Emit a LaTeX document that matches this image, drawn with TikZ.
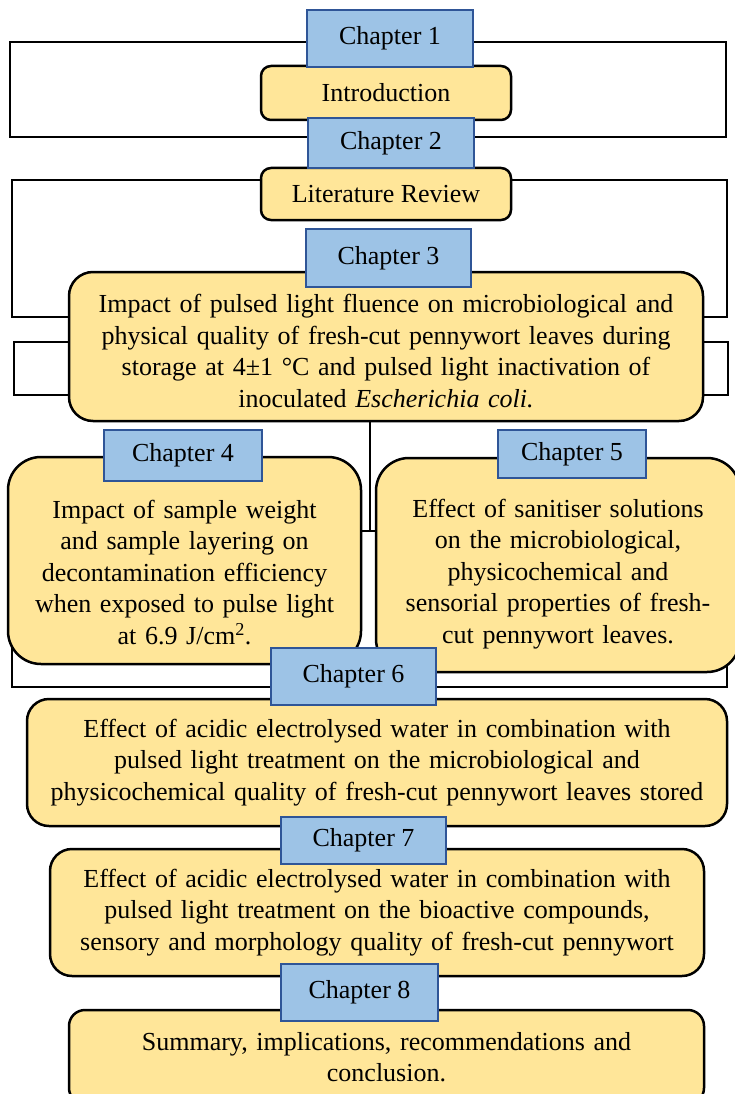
\documentclass[tikz,border=0pt]{standalone}
\usepackage{fontspec}
\setmainfont{Liberation Serif}
\usepackage{xcolor}
\usepackage{tikz}
\usetikzlibrary{positioning}
\definecolor{chapblue}{HTML}{9DC3E6}
\definecolor{chapedge}{HTML}{2F5597}
\definecolor{topicyellow}{HTML}{FFE699}

\begin{document}
\begin{tikzpicture}[x=1pt,y=-1pt]
        \tikzstyle{frame_line}=[draw=black,line width=2pt]
        \tikzstyle{topic_node}=[rounded corners=10pt,fill=topicyellow,draw=black,line width=2.5pt,align=center,inner sep=0pt,font=\fontsize{26}{31.5}\selectfont]
        \tikzstyle{chapter_node}=[fill=chapblue,draw=chapedge,line width=2pt,minimum width=165pt,inner sep=0pt,font=\fontsize{26}{31.5}\selectfont]
        \useasboundingbox (0,0) rectangle (734,1094);

        % frames behind the boxes
        \draw[frame_line] (10,42) rectangle (726,137);
        \draw[frame_line] (12,180) rectangle (727,317);
        \draw[frame_line] (14,342) rectangle (728,395);
        \draw[frame_line] (12,531) rectangle (727,687);
        \coordinate (f4_top) at (370,531);

        \node[topic_node,minimum width=250pt,minimum height=54pt]  (intro)  at (386,93)  {Introduction};
        \node[topic_node,minimum width=250pt,minimum height=52pt]  (litrev) at (386,194) {Literature Review};
        \node[topic_node,rounded corners=24pt,minimum width=634pt,minimum height=149pt,text width=620pt]  (ch3_topic) at (386,346.5)
            {\rule{0pt}{27pt}Impact of pulsed light fluence on microbiological and\\ physical quality of fresh-cut pennywort leaves during\\ storage at 4±1 °C and pulsed light inactivation of\\ inoculated \textit{Escherichia coli.}};
        \node[topic_node,rounded corners=33pt,minimum width=353pt,minimum height=207pt,text width=340pt]  (ch4_topic) at (184.5,560.5)
            {\rule{0pt}{42pt}Impact of sample weight\\ and sample layering on\\ decontamination efficiency\\ when exposed to pulse light\\ at 6.9 J/cm\textsuperscript{2}.};
        \node[topic_node,rounded corners=33pt,minimum width=364pt,minimum height=214pt,text width=350pt]  (ch5_topic) at (558,565)
            {\rule{0pt}{36pt}Effect of sanitiser solutions\\ on the microbiological,\\ physicochemical and\\ sensorial properties of fresh-\\ cut pennywort leaves.};
        \node[topic_node,rounded corners=22pt,minimum width=700pt,minimum height=127pt,text width=690pt]  (ch6_topic) at (377,762.5)
            {Effect of acidic electrolysed water in combination with\\ pulsed light treatment on the microbiological and\\ physicochemical quality of fresh-cut pennywort leaves stored};
        \node[topic_node,rounded corners=22pt,minimum width=654pt,minimum height=127pt,text width=640pt]  (ch7_topic) at (377,912.5)
            {Effect of acidic electrolysed water in combination with\\ pulsed light treatment on the bioactive compounds,\\ sensory and morphology quality of fresh-cut pennywort};
        \node[topic_node,rounded corners=16pt,minimum width=635pt,minimum height=94pt,text width=620pt]  (ch8_topic) at (386.5,1057)
            {Summary, implications, recommendations and\\ conclusion.};

        \node[chapter_node,minimum width=166pt,minimum height=57pt]  (ch1) at (390,38.5)   {Chapter 1};
        \node[chapter_node,minimum width=166pt,minimum height=50pt]  (ch2) at (391,143)    {Chapter 2};
        \node[chapter_node,minimum height=58pt]                      (ch3) at (388.5,258)  {Chapter 3};
        \node[chapter_node,minimum width=158pt,minimum height=51pt]  (ch4) at (183,455.5)  {Chapter 4};
        \node[chapter_node,minimum width=148pt,minimum height=48pt]  (ch5) at (572,454)    {Chapter 5};
        \node[chapter_node,minimum height=57pt]                      (ch6) at (353.5,676.5) {Chapter 6};
        \node[chapter_node,minimum height=47pt]                      (ch7) at (363.5,840.5) {Chapter 7};
        \node[chapter_node,minimum width=157pt,minimum height=57pt]  (ch8) at (359.5,992.5) {Chapter 8};

        \path[frame_line]
        (ch3_topic.south -| f4_top) edge (f4_top);

\end{tikzpicture}
\end{document}
